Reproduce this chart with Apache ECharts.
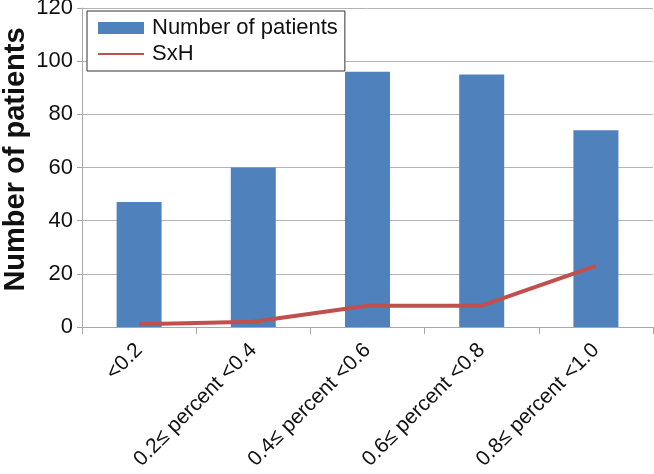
<!DOCTYPE html>
<html><head><meta charset="utf-8">
<script src="https://cdn.jsdelivr.net/npm/echarts@6/dist/echarts.min.js"></script>
<style>html,body{margin:0;padding:0;background:#fff}#c{width:654px;height:474px}</style>
</head><body><div id="c"></div>
<script>
const categories = ['<0.2', '0.2\u2264 percent <0.4', '0.4\u2264 percent <0.6', '0.6\u2264 percent <0.8', '0.8\u2264 percent <1.0'];
const patients = [47, 60, 96, 95, 74];
const sxh = [1, 2, 8, 8, 23];
const yTicks = {min: 0, max: 120, interval: 20};

const FONT = 'Liberation Sans, Arial, sans-serif';
const chart = echarts.init(document.getElementById('c'));
chart.setOption({
  animation: false,
  textStyle: {fontFamily: FONT},
  grid: {left: 82, right: 1, top: 8, bottom: 147, containLabel: false, outerBoundsMode: 'none'},
  legend: {
    orient: 'vertical', left: 87, top: 11,
    backgroundColor: '#fff', borderColor: '#333', borderWidth: 1,
    padding: [6, 7, 6, 10], itemGap: 4,
    itemWidth: 46, itemHeight: 12,
    textStyle: {fontSize: 22, color: '#111', fontFamily: FONT, padding: [0, 0, 0, 3]},
    data: [
      {name: 'Number of patients', icon: 'rect'},
      {name: 'SxH', lineStyle: {width: 2}, itemStyle: {opacity: 0}}
    ]
  },
  xAxis: {
    type: 'category', data: categories,
    axisLine: {lineStyle: {color: '#a8a8a8', width: 1}},
    axisTick: {show: true, length: 7, lineStyle: {color: '#a8a8a8'}},
    axisLabel: {rotate: 45, fontSize: 21, color: '#111', margin: 20, interval: 0}
  },
  yAxis: {
    type: 'value', min: yTicks.min, max: yTicks.max, interval: yTicks.interval,
    name: 'Number of patients', nameLocation: 'middle', nameGap: 52, nameMoveOverlap: false,
    nameTextStyle: {fontSize: 29, fontWeight: 'bold', color: '#111', padding: [0, 0, 0, 16]},
    axisLine: {show: true, lineStyle: {color: '#a8a8a8'}},
    axisTick: {show: true, length: 5, lineStyle: {color: '#a8a8a8'}},
    axisLabel: {fontSize: 22, color: '#111', margin: 9},
    splitLine: {lineStyle: {color: '#b4b4b4', width: 1}}
  },
  series: [
    {name: 'Number of patients', type: 'bar', data: patients, barWidth: 45,
     itemStyle: {color: '#4f81bd'}},
    {name: 'SxH', type: 'line', data: sxh, symbol: 'none',
     lineStyle: {color: '#c0504d', width: 4}, itemStyle: {color: '#c0504d'}}
  ]
});
</script></body></html>
